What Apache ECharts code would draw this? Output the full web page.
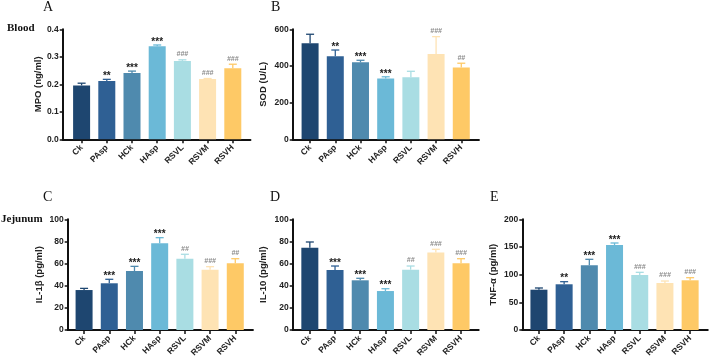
<!DOCTYPE html>
<html>
<head>
<meta charset="utf-8">
<script src="https://cdn.jsdelivr.net/npm/echarts@6/dist/echarts.min.js"></script>
<style>html,body{margin:0;padding:0;background:#fff}#c{width:709px;height:362px}</style>
</head>
<body>
<div id="c"></div>
<script>
const categories = ['Ck','PAsp','HCk','HAsp','RSVL','RSVM','RSVH'];
const barColors = ['#1e4670','#2f6094','#4f8aae','#6bb9d7','#a9dde3','#fee3b4','#fec966'];

const mpoMean = [0.196,0.212,0.241,0.338,0.285,0.219,0.258];
const mpoErr  = [0.008,0.006,0.007,0.005,0.004,0.002,0.015];
const mpoSig  = ['','**','***','***','###','###','###'];

const sodMean = [524,453,420,331,338,465,391];
const sodErr  = [49,34,11,10,33,95,24];
const sodSig  = ['','**','***','***','','###','##'];

const il1bMean = [36.1,42.2,53.3,78.3,64.4,54.5,60.2];
const il1bErr  = [1.5,3.6,4.2,5.1,4.0,2.7,4.2];
const il1bSig  = ['','***','***','***','##','###','##'];

const il10Mean = [74.4,54.2,44.9,35.2,54.5,69.9,60.2];
const il10Err  = [5.1,3.6,1.8,2.1,3.3,3.0,4.2];
const il10Sig  = ['','***','***','***','##','###','###'];

const tnfMean = [72.8,82.6,116.9,153.6,99.4,84.9,89.8];
const tnfErr  = [3.1,4.7,10.8,3.6,4.8,3.6,4.7];
const tnfSig  = ['','**','***','***','###','###','###'];

const yNames = ['MPO (ng/ml)','SOD (U/L)','IL-1β (pg/ml)','IL-10 (pg/ml)','TNF-α (pg/ml)'];
const yMax = [0.4,600,100,100,200];
const yStep = [0.1,200,20,20,50];

const panels = [
  {mean: mpoMean, err: mpoErr, sig: mpoSig, left: 62.7, top: 29.3, h: 110, xmin: -0.75, gap: 15.5},
  {mean: sodMean, err: sodErr, sig: sodSig, left: 292.7, top: 29.3, h: 110, xmin: -0.69, gap: 24},
  {mean: il1bMean, err: il1bErr, sig: il1bSig, left: 67.7, top: 219.3, h: 110.7, xmin: -0.65, gap: 23},
  {mean: il10Mean, err: il10Err, sig: il10Sig, left: 292.7, top: 219.3, h: 110.7, xmin: -0.68, gap: 24},
  {mean: tnfMean, err: tnfErr, sig: tnfSig, left: 522.3, top: 219.3, h: 110.7, xmin: -0.66, gap: 24}
];
const band = 25.2, xmax = 6.7;
const sansFont = '"Liberation Sans", Arial, sans-serif';
const serifFont = '"Liberation Serif", "Times New Roman", serif';

const grid = [], xAxis = [], yAxis = [], series = [];
const n = panels.length;
panels.forEach((p, k) => {
  grid.push({left: p.left, top: p.top, width: (xmax - p.xmin) * band, height: p.h});
  xAxis.push({
    type: 'value', gridIndex: k, min: p.xmin, max: xmax,
    splitLine: {show: false},
    axisLine: {show: true, onZero: false, lineStyle: {color: '#111', width: 2}},
    axisTick: {show: false},
    axisLabel: {show: false}
  });
  yAxis.push({
    type: 'value', gridIndex: k, min: 0, max: yMax[k], interval: yStep[k],
    name: yNames[k], nameLocation: 'middle', nameGap: p.gap, nameRotate: 90,
    nameTextStyle: {fontSize: 9.5, fontWeight: 'bold', color: '#222', fontFamily: sansFont},
    splitLine: {show: false},
    axisLine: {show: true, onZero: false, lineStyle: {color: '#111', width: 2}},
    axisTick: {show: true, length: 3, lineStyle: {color: '#111', width: 1.5}},
    axisLabel: {fontSize: 8.5, fontWeight: 'bold', color: '#222', margin: 4, fontFamily: sansFont,
      formatter: v => k === 0 ? v.toFixed(1) : String(v)}
  });
  series.push({
    type: 'bar', xAxisIndex: k, yAxisIndex: k, barWidth: 17, silent: true,
    data: p.mean.map((v, i) => [i, v]),
    itemStyle: {color: params => barColors[params.dataIndex]}
  });
  series.push({
    type: 'custom', xAxisIndex: k, yAxisIndex: k, silent: true, z: 5, clip: false,
    data: p.mean.map((v, i) => [i, v, p.err[i]]),
    renderItem: function (params, api) {
      const i = params.dataIndex;
      const x = api.value(0), m = api.value(1), e = api.value(2);
      const a = api.coord([x, m]);
      const b = api.coord([x, m + e]);
      const col = barColors[i];
      const children = [
        {type: 'line', shape: {x1: a[0], y1: a[1], x2: b[0], y2: b[1]}, style: {stroke: col, lineWidth: 1.3}},
        {type: 'line', shape: {x1: b[0] - 4, y1: b[1], x2: b[0] + 4, y2: b[1]}, style: {stroke: col, lineWidth: 1.3}}
      ];
      const s = p.sig[i];
      if (s) {
        const isStar = s.indexOf('*') >= 0;
        children.push({
          type: 'text',
          style: {
            x: b[0], y: b[1] - (isStar ? 3 : 5.5), text: s, align: 'center', verticalAlign: 'middle',
            fontSize: isStar ? 10 : 7, fontWeight: 'bold', fontStyle: isStar ? 'normal' : 'italic',
            fontFamily: sansFont, fill: isStar ? '#222' : '#8a8a8a'
          }
        });
      }
      return {type: 'group', children: children};
    }
  });
});
// category axes for ticks and rotated labels, aligned with bar centres
panels.forEach((p, k) => {
  const c0 = p.left + (0 - p.xmin) * band;
  grid.push({left: c0 - band / 2, top: p.top, width: 7 * band, height: p.h});
  xAxis.push({
    type: 'category', gridIndex: n + k, data: categories, boundaryGap: true,
    axisLine: {show: false},
    axisTick: {show: true, alignWithLabel: true, length: 4, lineStyle: {color: '#111', width: 1.5}},
    axisLabel: {show: true, interval: 0, rotate: 45, margin: 7, fontSize: 8.5, fontWeight: 'bold',
      color: '#222', fontFamily: sansFont, hideOverlap: false}
  });
  yAxis.push({type: 'value', gridIndex: n + k, show: false, min: 0, max: 1,
    splitLine: {show: false}, axisLine: {show: false}, axisTick: {show: false}, axisLabel: {show: false}});
});

const title = [
  {text: 'A', left: 43, top: 0.5},
  {text: 'B', left: 271, top: 0.5},
  {text: 'C', left: 43, top: 190.5},
  {text: 'D', left: 270, top: 190.5},
  {text: 'E', left: 490, top: 190.5}
].map(t => Object.assign(t, {padding: 0, textStyle: {fontSize: 14, fontWeight: 'normal', color: '#111', fontFamily: serifFont}}));
title.push({text: 'Blood', left: 7, top: 22.5, padding: 0, textStyle: {fontSize: 11, fontWeight: 'bold', color: '#111', fontFamily: serifFont}});
title.push({text: 'Jejunum', left: 1, top: 214, padding: 0, textStyle: {fontSize: 11, fontWeight: 'bold', color: '#111', fontFamily: serifFont}});

const chart = echarts.init(document.getElementById('c'), null, {renderer: 'canvas'});
chart.setOption({animation: false, backgroundColor: '#fff', title, grid, xAxis, yAxis, series});
</script>
</body>
</html>
